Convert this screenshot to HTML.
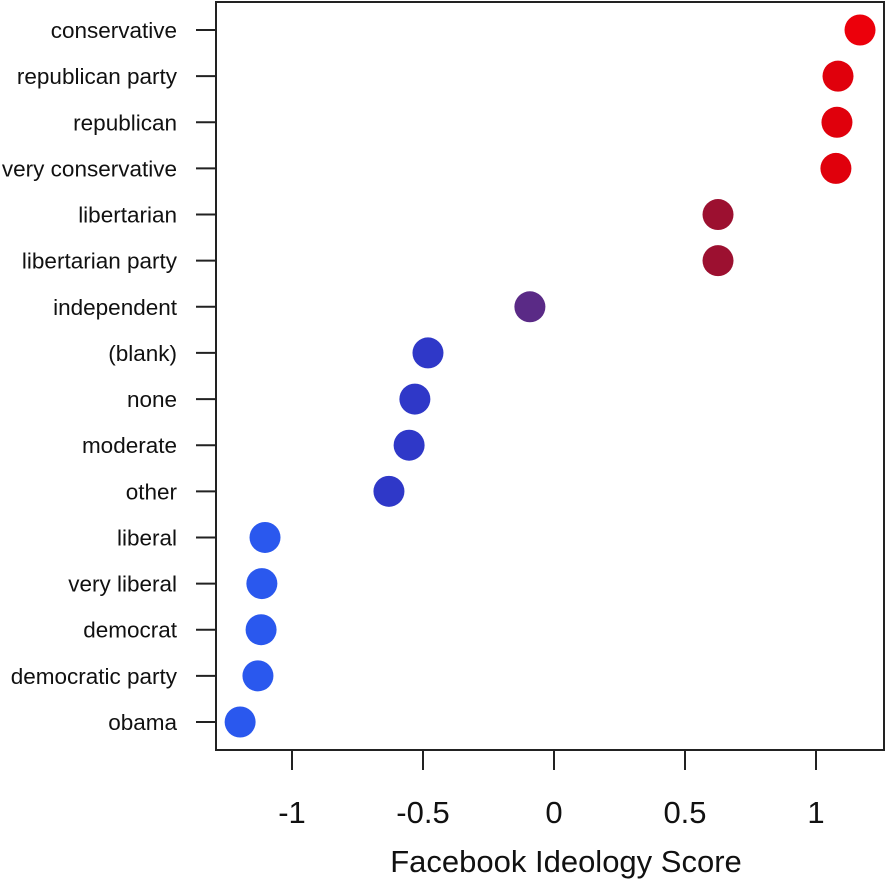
<!DOCTYPE html>
<html><head><meta charset="utf-8"><style>
body{margin:0;background:#fff}
svg{display:block;font-family:"Liberation Sans",Arial,sans-serif}
</style></head><body>
<svg id="chart" width="886" height="881">
<rect x="216" y="2" width="668" height="748" fill="none" stroke="#222" stroke-width="2"/>
<g id="yaxis"></g>
<g id="xaxis"></g>
<g id="dots"></g>
<text x="566" y="872" font-size="31" text-anchor="middle" fill="#111">Facebook Ideology Score</text>
</svg>
<script>
const categories=["conservative","republican party","republican","very conservative","libertarian","libertarian party","independent","(blank)","none","moderate","other","liberal","very liberal","democrat","democratic party","obama"];
const scores=[1.168,1.084,1.08,1.076,0.626,0.626,-0.092,-0.481,-0.531,-0.553,-0.63,-1.103,-1.115,-1.118,-1.13,-1.198];
const colors=["#ec000b","#e0000c","#e0000c","#e0000c","#9c1030","#9c1030","#5a2a86","#2f38c8","#2f38c8","#2f38c8","#2f38c8","#2a58ee","#2a58ee","#2a58ee","#2a58ee","#2a58ee"];
const xTicks=[-1,-0.5,0,0.5,1];
const xTickLabels=["-1","-0.5","0","0.5","1"];
const NS="http://www.w3.org/2000/svg";
function xs(v){return 554+v*262;}
function ys(i){return 30+i*(722-30)/(categories.length-1);}
const ya=document.getElementById('yaxis'),xa=document.getElementById('xaxis'),dg=document.getElementById('dots');
function mk(tag,attrs,parent){const e=document.createElementNS(NS,tag);for(const k in attrs)e.setAttribute(k,attrs[k]);parent.appendChild(e);return e;}
categories.forEach((c,i)=>{
  const y=ys(i);
  const t=mk('line',{x1:196,x2:216,y1:y,y2:y,stroke:'#222','stroke-width':2},ya);
  
  
  const l=mk('text',{x:177,y:y+8,'font-size':22.5,'text-anchor':'end',fill:'#111'},ya);
  l.textContent=c;
  
  
  const d=mk('circle',{cx:xs(scores[i]),cy:y,r:15.5,fill:colors[i]},dg);
  
  
});
xTicks.forEach((v,i)=>{
  const x=xs(v);
  const t=mk('line',{x1:x,x2:x,y1:750,y2:770,stroke:'#222','stroke-width':2},xa);
  
  
  const l=mk('text',{x:x,y:823,'font-size':31,'text-anchor':'middle',fill:'#111'},xa);
  l.textContent=xTickLabels[i];
  
  
});
</script>
</body></html>
